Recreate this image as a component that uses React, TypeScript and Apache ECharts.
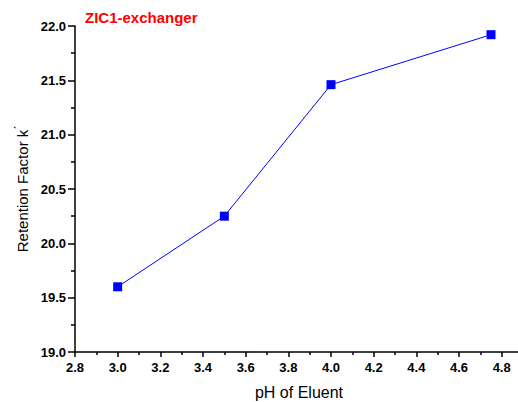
import React, { useEffect, useRef } from "react";
import * as echarts from "echarts";

const phValues = [3.0, 3.5, 4.0, 4.75];
const retention = [19.6, 20.25, 21.46, 21.92];
const titleText = "ZIC1-exchanger";
const xName = "pH of Eluent";
const yName = "Retention Factor k";

export default function App() {
  const ref = useRef<HTMLDivElement>(null);
  useEffect(() => {
    const chart = echarts.init(ref.current!, null, { renderer: "svg" });
    const font = "Liberation Sans, Arial, sans-serif";
    chart.setOption({
      animation: false,
      backgroundColor: "#ffffff",
      graphic: [
        {
          type: "text",
          left: 85,
          top: 10,
          style: {
            text: titleText,
            fill: "#ff0000",
            fontSize: 15,
            fontWeight: "bold",
            fontFamily: font,
          },
        },
      ],
      grid: {
        left: 75,
        top: 26,
        width: 448,
        height: 326,
        containLabel: false,
        outerBoundsMode: "none",
      },
      xAxis: {
        type: "value",
        min: 2.8,
        max: 4.9,
        interval: 0.2,
        name: xName,
        nameLocation: "middle",
        nameGap: 32,
        nameTextStyle: { fontSize: 16, color: "#000", fontFamily: font },
        axisLine: { lineStyle: { color: "#000", width: 1.5 } },
        axisTick: { inside: false, length: 5, lineStyle: { color: "#000", width: 1.5 } },
        minorTick: { show: true, splitNumber: 2, length: 3, lineStyle: { color: "#000", width: 1.5 } },
        splitLine: { show: false },
        axisLabel: {
          margin: 9,
          fontSize: 13,
          fontWeight: "bold",
          color: "#000",
          fontFamily: font,
          formatter: (v: number) => (Math.abs(v - 4.9) < 1e-6 ? "" : v.toFixed(1)),
        },
      },
      yAxis: {
        type: "value",
        min: 19.0,
        max: 22.0,
        interval: 0.5,
        name: yName + "{sup|ˊ}",
        nameLocation: "middle",
        nameGap: 44,
        nameTextStyle: {
          fontSize: 15,
          color: "#000",
          fontFamily: font,
          rich: { sup: { fontSize: 12, verticalAlign: "top", padding: [0, 0, 5, 0], color: "#000" } },
        },
        axisLine: { show: true, lineStyle: { color: "#000", width: 1.5 } },
        axisTick: { show: true, inside: false, length: 7, lineStyle: { color: "#000", width: 1.5 } },
        minorTick: { show: true, splitNumber: 2, length: 4, lineStyle: { color: "#000", width: 1.5 } },
        splitLine: { show: false },
        axisLabel: {
          margin: 9,
          fontSize: 13,
          fontWeight: "bold",
          color: "#000",
          fontFamily: font,
          formatter: (v: number) => v.toFixed(1),
        },
      },
      series: [
        {
          type: "line",
          data: phValues.map((x, i) => [x, retention[i]]),
          symbol: "rect",
          symbolSize: 9,
          lineStyle: { color: "#0000ff", width: 1 },
          itemStyle: { color: "#0000ff" },
        },
      ],
    });
    return () => chart.dispose();
  }, []);
  return (
    <div
      ref={ref}
      style={{ position: "absolute", left: 0, top: 0, width: 518, height: 402 }}
    />
  );
}
